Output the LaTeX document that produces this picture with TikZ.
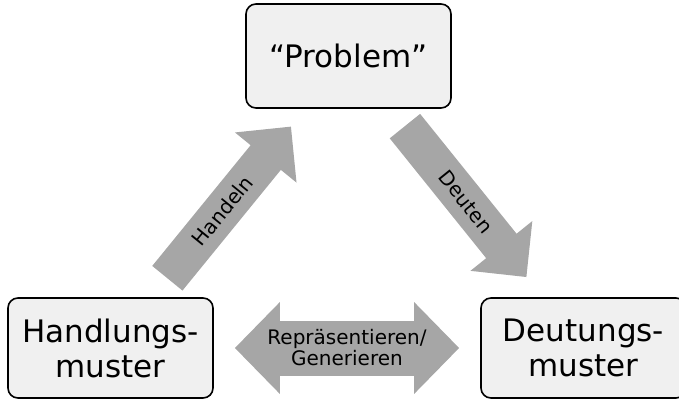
\documentclass[tikz,border=0pt]{standalone}
\usepackage{fontspec}
\setmainfont{DejaVu Sans}
\usepackage{xcolor}
\usepackage{tikz}
\usetikzlibrary{arrows.meta}
\definecolor{boxfill}{HTML}{F0F0F0}
\definecolor{arrowgray}{HTML}{A6A6A6}

\begin{document}
\begin{tikzpicture}[x=1pt,y=-1pt]
\tikzstyle{box}=[draw,line width=1.6pt,fill=boxfill,rounded corners=10pt,minimum width=205pt,align=center,font=\fontsize{31}{35}\selectfont]
\tikzstyle{fat}=[draw=arrowgray,line width=39pt,-{Triangle[width=77pt,length=40pt]},shorten <=90pt,shorten >=91pt]
\tikzstyle{dbl}=[draw=arrowgray,line width=55pt,{Triangle[width=89pt,length=45pt]}-{Triangle[width=89pt,length=45pt]},shorten <=21pt,shorten >=21pt]
\tikzstyle{lbl}=[font=\fontsize{20}{21}\selectfont,text=black,inner sep=1pt]
%
\useasboundingbox (0,0) rectangle (679,401);
%
\node[box,minimum height=104pt](prob) at (348.5,56){“Problem”};
\node[box,minimum height=100pt](hand) at (110.5,348){Handlungs-\\muster};
\node[box,minimum height=100pt](deut) at (583.5,348){Deutungs-\\muster};
%
\draw[fat] (hand.center) -- (prob.center) node[lbl,pos=0.47,sloped]{Handeln};
\draw[fat] (prob.center) -- (deut.center) node[lbl,midway,sloped]{Deuten};
%
\draw[dbl] (hand.east) -- (deut.west) node[lbl,midway,align=center]{Repräsentieren/\\Generieren};
\end{tikzpicture}
\end{document}
